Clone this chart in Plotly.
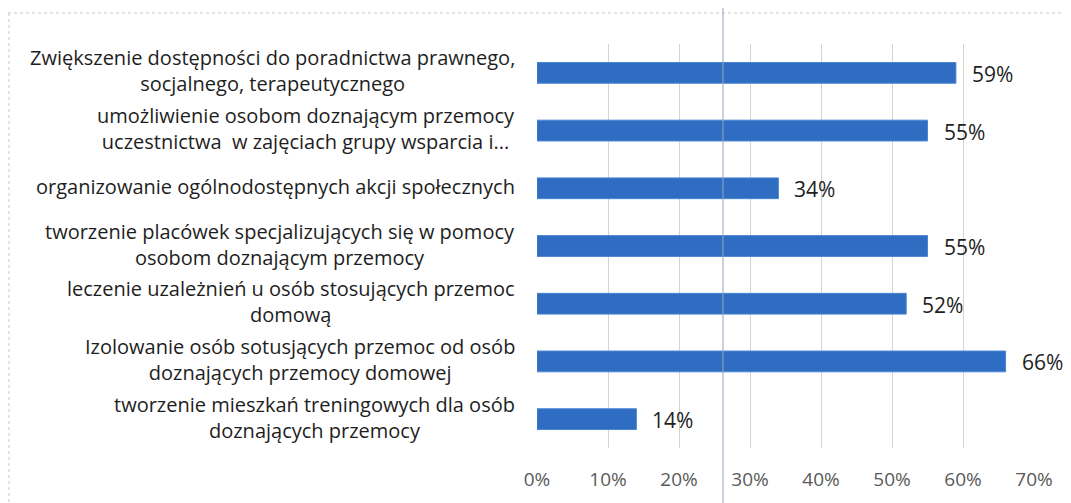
import plotly.graph_objects as go

categories = [
    "Zwiększenie dostępności do poradnictwa prawnego,<br>socjalnego, terapeutycznego",
    "umożliwienie osobom doznającym przemocy<br>uczestnictwa  w zajęciach grupy wsparcia i...",
    "organizowanie ogólnodostępnych akcji społecznych",
    "tworzenie placówek specjalizujących się w pomocy<br>osobom doznającym przemocy",
    "leczenie uzależnień u osób stosujących przemoc<br>domową",
    "Izolowanie osób sotusjących przemoc od osób<br>doznających przemocy domowej",
    "tworzenie mieszkań treningowych dla osób<br>doznających przemocy",
]
values = [0.59, 0.55, 0.34, 0.55, 0.52, 0.66, 0.14]
value_labels = ["59%", "55%", "34%", "55%", "52%", "66%", "14%"]
x_ticks = [0, 0.1, 0.2, 0.3, 0.4, 0.5, 0.6, 0.7]
x_tick_labels = ["0%", "10%", "20%", "30%", "40%", "50%", "60%", "70%"]

# page body has an 8px margin, so the figure is drawn 8px in from the window edge
OFF = 8
W, H = 1071 - OFF, 503 - OFF
L, R, T, B = 537 - OFF, 37, 44 - OFF, 55
pw, ph = W - L - R, H - T - B

def px(xpix):
    return (xpix - OFF - L) / pw

def py(ypix):
    return (H - B - (ypix - OFF)) / ph

FONT = "Open Sans, sans-serif"
ids = list(range(len(categories)))

fig = go.Figure()
fig.add_trace(go.Bar(
    x=values, y=ids, orientation="h",
    marker=dict(color="#2F6DC2", line=dict(color="#4A86D4", width=1)),
    width=0.36, hoverinfo="skip",
))

annotations = []
for i, (c, v, t) in enumerate(zip(categories, values, value_labels)):
    annotations.append(dict(
        x=0, xref="paper", y=i, yref="y", text=c, showarrow=False,
        xanchor="right", yanchor="middle", align="center", xshift=-20, yshift=2,
        font=dict(family=FONT, size=20, color="#1e1e1e"),
    ))
    annotations.append(dict(
        x=v, xref="x", y=i, yref="y", text=t, showarrow=False,
        xanchor="left", yanchor="middle", xshift=14, yshift=-1,
        font=dict(family=FONT, size=21, color="#1e1e1e"),
    ))

shapes = [
    dict(type="line", xref="paper", yref="paper", x0=px(8), x1=px(1080), y0=py(13), y1=py(13),
         line=dict(color="#c8c8c8", width=1, dash="dot")),
    dict(type="line", xref="paper", yref="paper", x0=px(9), x1=px(9), y0=py(13), y1=py(510),
         line=dict(color="#c8c8c8", width=1, dash="dot")),
    dict(type="line", xref="paper", yref="paper", x0=px(723), x1=px(723), y0=py(0), y1=py(510),
         line=dict(color="#9aa3b8", width=1)),
]

fig.update_layout(
    width=W, height=H,
    margin=dict(l=L, r=R, t=T, b=B),
    paper_bgcolor="white", plot_bgcolor="white",
    showlegend=False,
    annotations=annotations,
    shapes=shapes,
    xaxis=dict(
        range=[0, 0.7], tickvals=x_ticks, ticktext=x_tick_labels,
        showgrid=True, gridcolor="#d4d4d4", gridwidth=1, zeroline=False,
        showline=False, ticks="outside", ticklen=14, tickcolor="rgba(0,0,0,0)",
        tickfont=dict(family=FONT, size=19, color="#5a5a5a"),
        fixedrange=True, automargin=False,
    ),
    yaxis=dict(
        range=[len(categories) - 0.5, -0.5], showticklabels=False,
        showgrid=False, zeroline=False, showline=False, fixedrange=True,
    ),
)

fig.write_html("out.html")
